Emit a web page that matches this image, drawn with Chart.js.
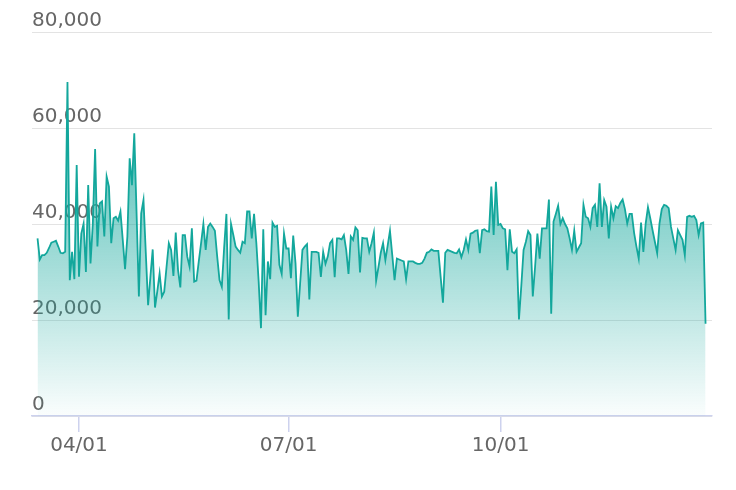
<!DOCTYPE html>
<html>
<head>
<meta charset="utf-8">
<script src="https://cdn.jsdelivr.net/npm/chart.js@4"></script>
<style>
  html, body { margin: 0; padding: 0; background: #fff; }
  #wrap { width: 736px; height: 490px; position: relative; }
</style>
</head>
<body>
<div id="wrap"><canvas id="chart"></canvas></div>
<script>
// Valores diarios por mes (14/03 - 29/12)
const marValues = [37000, 32600, 33500, 33500, 34000, 35000, 36100, 36300, 36500, 35300,
                   34000, 33900, 34200, 69600, 28300, 34200, 28500, 52300];
const aprValues = [29000, 38000, 40100, 30000, 48100, 31800, 40000, 55600, 35300, 44300,
                   44700, 37400, 49900, 47800, 36000, 41200, 41500, 40700, 42600, 36700,
                   30600, 37400, 53700, 48100, 58900, 42200, 24900, 42200, 45000, 34000];
const mayValues = [23100, 29000, 34700, 22600, 26000, 29700, 24900, 25900, 31000, 36000,
                   34600, 29200, 38200, 30400, 26800, 37700, 37700, 33200, 31100, 39100,
                   28000, 28200, 32200, 36000, 40000, 34600, 39400, 40100, 39400, 38600, 33200];
const junValues = [28300, 26900, 35000, 42100, 20100, 40000, 37700, 35300, 34600, 34000,
                   36300, 36000, 42600, 42600, 37000, 42100, 36000, 28000, 18300, 38900,
                   21000, 32200, 28500, 40300, 39400, 39600, 31500, 29600, 38000, 34900];
const julValues = [34900, 28700, 37600, 31800, 20700, 27600, 34600, 35300, 35800, 24300,
                   34200, 34200, 34200, 34000, 29000, 34200, 31700, 33200, 36000, 36700,
                   28900, 37000, 37000, 36800, 37700, 34600, 29600, 37400, 36700, 39300, 38700];
const augValues = [29900, 37100, 37000, 37000, 34200, 36000, 38200, 28200, 31000, 34000,
                   36000, 32500, 35500, 38600, 33500, 28300, 32800, 32600, 32400, 32200,
                   28500, 32200, 32200, 32200, 31900, 31700, 31700, 31900, 32800, 34000, 34200];
const sepValues = [34700, 34400, 34400, 34400, 29000, 23600, 34000, 34600, 34400, 34200,
                   34000, 33900, 34700, 33100, 34600, 36800, 34600, 38000, 38200, 38600,
                   38700, 33900, 38700, 38900, 38500, 38400, 47800, 37700, 48800, 39800];
const octValues = [40000, 39100, 38900, 30400, 38900, 34200, 33900, 34700, 20100, 27000,
                   34600, 36300, 38500, 37700, 24900, 31100, 38000, 32800, 39100, 39100,
                   39100, 45100, 21300, 40500, 42100, 43800, 40000, 41200, 40000, 39100, 37000];
const novValues = [34600, 38600, 34200, 35100, 36000, 44000, 41500, 41200, 39400, 43300,
                   44000, 39400, 48500, 39400, 45000, 43600, 37000, 43600, 41200, 43700,
                   43300, 44400, 45100, 43100, 40100, 42100, 42100, 38100, 35300, 32800];
const decValues = [40300, 34200, 40100, 43500, 41200, 38700, 36300, 33900, 40100, 43100,
                   44000, 43800, 43300, 39400, 37000, 34600, 38700, 37700, 36700, 33500,
                   41500, 41700, 41500, 41700, 40800, 37700, 40100, 40300, 19200];

// mes (1-12), primer día de cada serie
const months = [3, 4, 5, 6, 7, 8, 9, 10, 11, 12];
const firstDays = [14, 1, 1, 1, 1, 1, 1, 1, 1, 1];
const monthValues = [marValues, aprValues, mayValues, junValues, julValues,
                     augValues, sepValues, octValues, novValues, decValues];

const xTickLabels = ['04/01', '07/01', '10/01'];
const yTicks = [0, 20000, 40000, 60000, 80000];

const monthStart = [0, 31, 59, 90, 120, 151, 181, 212, 243, 273, 304, 334];
function dayOfYear(m, d) { return monthStart[m - 1] + d; }
function labelToDay(lbl) {
    const p = lbl.split('/');
    return dayOfYear(parseInt(p[0], 10), parseInt(p[1], 10));
}

const points = [];
months.forEach((m, k) => {
    monthValues[k].forEach((v, j) => {
        points.push({ x: dayOfYear(m, firstDays[k] + j), y: v });
    });
});

const tickDays = xTickLabels.map(labelToDay);
const axisColor = '#cdd2ee';

const ctx = document.getElementById('chart').getContext('2d');
new Chart(ctx, {
    type: 'line',
    data: {
        datasets: [{
            data: points,
            borderColor: '#13a79c',
            borderWidth: 1.8,
            pointRadius: 0,
            tension: 0,
            fill: 'origin',
            backgroundColor: function(context) {
                const area = context.chart.chartArea;
                if (!area) return 'rgba(19,167,156,0.4)';
                const g = context.chart.ctx.createLinearGradient(0, area.top, 0, area.bottom);
                g.addColorStop(0, 'rgba(19,167,156,0.95)');
                g.addColorStop(1, 'rgba(19,167,156,0.02)');
                return g;
            }
        }]
    },
    options: {
        responsive: true,
        maintainAspectRatio: false,
        animation: false,
        layout: { padding: { left: 32, right: 24, top: 32, bottom: 0 } },
        plugins: {
            legend: { display: false },
            tooltip: { enabled: false }
        },
        scales: {
            x: {
                type: 'linear',
                min: 70.6,
                max: 365.8,
                afterBuildTicks: function(scale) {
                    scale.ticks = tickDays.map(d => ({ value: d }));
                },
                afterFit: function(scale) { scale.height = 74; },
                ticks: {
                    autoSkip: false,
                    maxRotation: 0,
                    padding: 2,
                    color: '#666',
                    font: { family: 'DejaVu Sans', size: 20 },
                    callback: function(value) {
                        const i = tickDays.indexOf(value);
                        return i >= 0 ? xTickLabels[i] : '';
                    }
                },
                grid: {
                    drawOnChartArea: false,
                    tickLength: 16,
                    color: axisColor,
                    lineWidth: 1.5
                },
                border: { color: axisColor, width: 1.5 }
            },
            y: {
                min: 0,
                max: 80000,
                afterBuildTicks: function(scale) {
                    scale.ticks = yTicks.map(v => ({ value: v }));
                },
                afterFit: function(scale) { scale.width = 0; },
                ticks: {
                    mirror: true,
                    padding: 0,
                    labelOffset: -11,
                    color: '#666',
                    font: { family: 'DejaVu Sans', size: 20 },
                    callback: function(value) {
                        return value.toLocaleString('en-US');
                    }
                },
                grid: {
                    drawTicks: false,
                    color: '#e3e3e3',
                    lineWidth: 1
                },
                border: { display: false }
            }
        }
    }
});
</script>
</body>
</html>
